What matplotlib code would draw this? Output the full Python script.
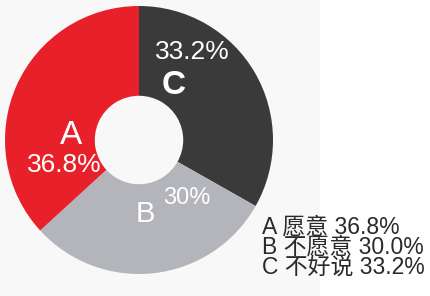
import matplotlib
matplotlib.use("Agg")
import matplotlib.pyplot as plt
from matplotlib.patches import Rectangle

# Data (clockwise from 12 o'clock)
categories = ["C", "B", "A"]
values = [33.2, 30.0, 36.8]
pct_labels = ["33.2%", "30%", "36.8%"]
colors = ["#3a3a3a", "#b3b5ba", "#e8202a"]
legend_lines = ["A 愿意 36.8%", "B 不愿意 30.0%", "C 不好说 33.2%"]

W, H = 431, 296
fig = plt.figure(figsize=(W / 100, H / 100), dpi=100)
fig.patch.set_facecolor("white")
fig.patches.append(Rectangle((0, 0), 320 / W, 1, transform=fig.transFigure,
                             facecolor="#f8f8f8", edgecolor="none", zorder=-10))

cx, cy, r = 139, 140, 134
ax = fig.add_axes([(cx - r) / W, (H - cy - r) / H, 2 * r / W, 2 * r / H])
ax.pie(values, colors=colors, startangle=90, counterclock=False,
       radius=1.0, wedgeprops=dict(width=0.67, edgecolor="none"))
ax.set_xlim(-1, 1)
ax.set_ylim(-1, 1)
ax.set_aspect("auto")
ax.axis("off")

lf = "Liberation Sans"
# C labels
ax.text(0.40, 0.66, pct_labels[0], color="white", fontsize=19, family=lf,
        ha="center", va="center")
ax.text(0.26, 0.41, categories[0], color="white", fontsize=24, family=lf,
        weight="bold", ha="center", va="center")
# B labels
ax.text(0.05, -0.55, categories[1], color="white", fontsize=21, family=lf,
        ha="center", va="center")
ax.text(0.36, -0.43, pct_labels[1], color="white", fontsize=17, family=lf,
        ha="center", va="center")
# A labels
ax.text(-0.51, 0.03, categories[2], color="white", fontsize=24, family=lf,
        ha="center", va="center")
ax.text(-0.56, -0.19, pct_labels[2], color="white", fontsize=19, family=lf,
        ha="center", va="center")

fig.text(262 / W, 1 - 216 / H, "\n".join(legend_lines), fontsize=16.5,
         color="#2a2a2a", family=["Liberation Sans", "Noto Sans CJK SC"],
         ha="left", va="top", linespacing=0.82)

fig.savefig("out.png", dpi=100)
